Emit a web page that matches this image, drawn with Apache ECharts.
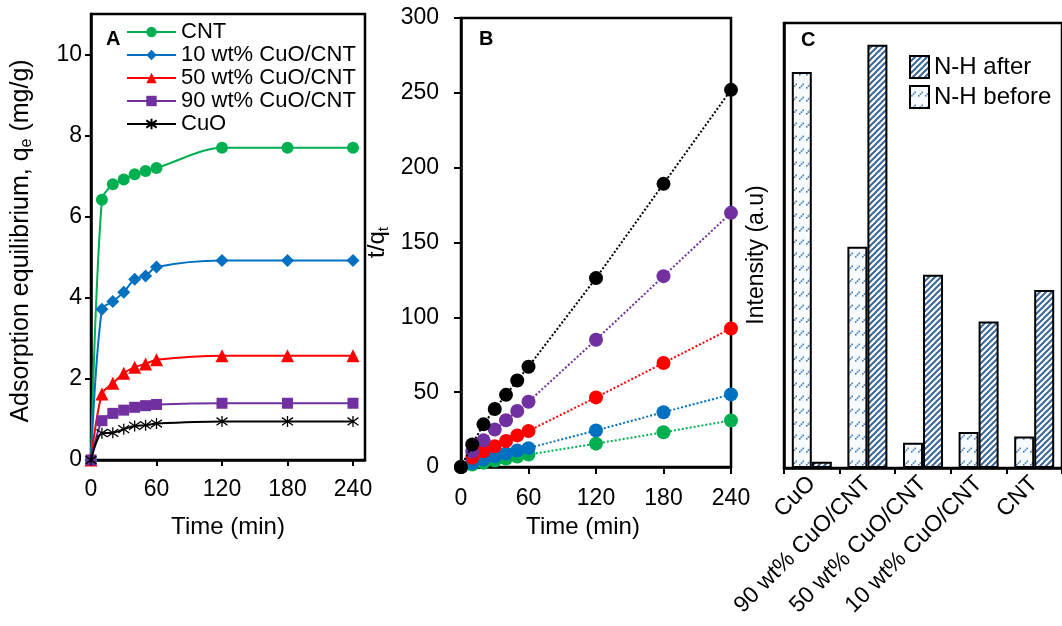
<!DOCTYPE html>
<html>
<head>
<meta charset="utf-8">
<script src="https://cdn.jsdelivr.net/npm/echarts@6/dist/echarts.min.js"></script>
<style>
  html, body { margin: 0; padding: 0; background: #fff; }
  #main { width: 1062px; height: 626px; }
</style>
</head>
<body>
<div id="main"></div>
<script>
// time points (min)
var timeA = [0, 10, 20, 30, 40, 50, 60, 120, 180, 240];

// panel A: q_e (mg/g)
var qCNT = [0, 6.42, 6.8, 6.92, 7.05, 7.13, 7.2, 7.7, 7.7, 7.7];
var q10 = [0, 3.72, 3.91, 4.14, 4.46, 4.54, 4.76, 4.92, 4.92, 4.92];
var q50 = [0, 1.63, 1.89, 2.14, 2.29, 2.37, 2.47, 2.57, 2.57, 2.57];
var q90 = [0, 0.97, 1.15, 1.23, 1.30, 1.34, 1.37, 1.40, 1.40, 1.40];
var qCuO = [0, 0.66, 0.67, 0.76, 0.84, 0.86, 0.90, 0.95, 0.95, 0.95];

// panel B: t/qt
var tqCNT = [0, 1.6, 2.9, 4.3, 5.7, 7.0, 8.3, 15.6, 23.2, 31.1];
var tq10 = [0, 2.7, 5.1, 7.2, 9.0, 11.0, 12.6, 24.4, 36.6, 48.5];
var tq50 = [0, 6.2, 10.5, 13.9, 17.4, 21.1, 24.1, 46.5, 69.5, 92.5];
var tq90 = [0, 10.4, 17.8, 25.0, 31.2, 37.4, 43.6, 85.0, 127.5, 169.8];
var tqCuO = [0, 15.0, 28.5, 38.8, 48.2, 57.8, 67.0, 126.2, 189.2, 252];

// panel C: N-H intensity (a.u)
var catsC = ['CuO', '90 wt% CuO/CNT', '50 wt% CuO/CNT', '10 wt% CuO/CNT', 'CNT'];
var nhBefore = [89.0, 49.7, 5.7, 8.1, 7.1];
var nhAfter = [1.4, 95.1, 43.4, 32.9, 40.0];

var tickA = [0, 60, 120, 180, 240];
var tickAy = [0, 2, 4, 6, 8, 10];

var names = ['CNT', '10 wt% CuO/CNT', '50 wt% CuO/CNT', '90 wt% CuO/CNT', 'CuO'];
var colors = ['#00B050', '#0070C0', '#FF0000', '#7030A0', '#000000'];
var symbols = ['circle', 'diamond', 'triangle', 'rect',
  'path://M5,0L5,10M1.5,1.5L8.5,8.5M1.5,8.5L8.5,1.5'];
var symSizes = [12, 13, 13, 11, 11];
var dataA = [qCNT, q10, q50, q90, qCuO];
var dataB = [tqCNT, tq10, tq50, tq90, tqCuO];

function pairs(ys) {
  var out = [];
  for (var i = 0; i < timeA.length; i++) out.push([timeA[i], ys[i]]);
  return out;
}

// hatch patterns
function patAfter() {
  var c = document.createElement('canvas');
  c.width = 6; c.height = 6;
  var g = c.getContext('2d');
  g.fillStyle = '#ffffff'; g.fillRect(0, 0, 6, 6);
  g.strokeStyle = '#3b6794'; g.lineWidth = 2;
  g.beginPath();
  g.moveTo(-1, 7); g.lineTo(7, -1);
  g.moveTo(-1, 1); g.lineTo(1, -1);
  g.moveTo(5, 7); g.lineTo(7, 5);
  g.stroke();
  return c;
}
function patBefore() {
  var c = document.createElement('canvas');
  c.width = 7; c.height = 13;
  var g = c.getContext('2d');
  g.fillStyle = '#f8fbfe'; g.fillRect(0, 0, 7, 13);
  g.fillStyle = '#3f78bd';
  g.fillRect(1, 9, 1.6, 1.6);
  g.fillRect(2.7, 7.3, 1.6, 1.6);
  g.fillRect(4.4, 5.6, 1.6, 1.6);
  return c;
}

var font = 'Liberation Sans, Arial, sans-serif';
var axisLineStyle = { color: '#000', width: 2.5 };

var series = [];
for (var s = 0; s < 5; s++) {
  series.push({
    name: names[s],
    type: 'line',
    xAxisIndex: 0, yAxisIndex: 0,
    data: pairs(dataA[s]),
    smooth: 0.3,
    symbol: symbols[s],
    symbolSize: symSizes[s],
    lineStyle: { color: colors[s], width: 2 },
    itemStyle: s === 4 ? { color: '#000', borderColor: '#000', borderWidth: 1.3 } : { color: colors[s] },
    emphasis: { disabled: true },
    z: 3 + s
  });
}
for (var s2 = 0; s2 < 5; s2++) {
  series.push({
    name: names[s2] + ' t/qt',
    type: 'line',
    xAxisIndex: 1, yAxisIndex: 1,
    data: pairs(dataB[s2]),
    symbol: 'circle',
    symbolSize: 14,
    lineStyle: { color: colors[s2], width: 2, type: 'dotted' },
    itemStyle: { color: colors[s2] },
    emphasis: { disabled: true },
    z: 3 + s2
  });
}
series.push({
  name: 'N-H before',
  type: 'bar',
  xAxisIndex: 2, yAxisIndex: 2,
  data: nhBefore,
  barWidth: 20,
  barGap: '0%',
  itemStyle: { color: { image: patBefore(), repeat: 'repeat' }, borderColor: '#000', borderWidth: 2 }
});
series.push({
  name: 'N-H after',
  type: 'bar',
  xAxisIndex: 2, yAxisIndex: 2,
  data: nhAfter,
  barWidth: 20,
  barGap: '0%',
  itemStyle: { color: { image: patAfter(), repeat: 'repeat' }, borderColor: '#000', borderWidth: 2 }
});

var myChart = echarts.init(document.getElementById('main'));
var option = {
  animation: false,
  textStyle: { fontFamily: font, color: '#000' },
  grid: [
    { left: 91, top: 14, width: 274, height: 446, show: true, borderColor: '#000', borderWidth: 2.5 },
    { left: 461, top: 18, width: 270, height: 449, show: true, borderColor: '#000', borderWidth: 2.5 },
    { left: 784, top: 23, width: 286, height: 445, show: true, borderColor: '#000', borderWidth: 2.5 }
  ],
  legend: [
    {
      data: names,
      orient: 'vertical',
      left: 126, top: 21, padding: 0,
      itemWidth: 49, itemHeight: 13, itemGap: 1,
      textStyle: { fontSize: 22, color: '#000', fontFamily: font },
      selectedMode: false
    },
    {
      data: ['N-H after', 'N-H before'],
      orient: 'vertical',
      left: 909, top: 55, padding: 0,
      icon: 'rect',
      itemWidth: 19, itemHeight: 22, itemGap: 6,
      textStyle: { fontSize: 24, color: '#000', fontFamily: font },
      selectedMode: false
    }
  ],
  xAxis: [
    {
      gridIndex: 0, type: 'value', min: 0, max: 251,
      axisLine: { lineStyle: axisLineStyle },
      axisTick: { show: true, length: 6, lineStyle: { color: '#000', width: 2 }, customValues: tickA },
      axisLabel: { fontSize: 23, color: '#000', margin: 18, customValues: tickA },
      splitLine: { show: false },
      name: 'Time (min)', nameLocation: 'middle', nameGap: 55,
      nameTextStyle: { fontSize: 24, color: '#000' }
    },
    {
      gridIndex: 1, type: 'value', min: 0, max: 240, interval: 60,
      axisLine: { lineStyle: axisLineStyle },
      axisTick: { show: true, length: 7, lineStyle: { color: '#000', width: 2 } },
      axisLabel: { fontSize: 23, color: '#000', margin: 20 },
      splitLine: { show: false },
      name: 'Time (min)', nameLocation: 'middle', nameGap: 42,
      nameTextStyle: { fontSize: 24, color: '#000', padding: [0, 26, 0, 0] }
    },
    {
      gridIndex: 2, type: 'category', data: catsC,
      axisLine: { lineStyle: axisLineStyle },
      axisTick: { show: true, length: 6, lineStyle: { color: '#000', width: 2 } },
      axisLabel: { fontSize: 23, color: '#000', rotate: 45, margin: 12, interval: 0 },
      splitLine: { show: false }
    }
  ],
  yAxis: [
    {
      gridIndex: 0, type: 'value', min: 0, max: 11,
      axisLine: { show: true, lineStyle: axisLineStyle },
      axisTick: { show: true, length: 6, lineStyle: { color: '#000', width: 2 }, customValues: tickAy },
      axisLabel: { fontSize: 23, color: '#000', margin: 9, customValues: tickAy },
      splitLine: { show: false },
      name: 'Adsorption equilibrium, q{sub|e} (mg/g)',
      nameLocation: 'middle', nameGap: 56,
      nameTextStyle: {
        fontSize: 25, color: '#000', padding: [0, 8, 0, 0],
        rich: { sub: { fontSize: 16, padding: [12, 0, 0, 0] } }
      }
    },
    {
      gridIndex: 1, type: 'value', min: 0, max: 300, interval: 50,
      axisLine: { show: true, lineStyle: axisLineStyle },
      axisTick: { show: true, length: 7, lineStyle: { color: '#000', width: 2 } },
      axisLabel: { fontSize: 23, color: '#000', margin: 22 },
      splitLine: { show: false },
      name: 't/q{sub|t}',
      nameLocation: 'middle', nameGap: 70,
      nameTextStyle: {
        fontSize: 24, color: '#000',
        rich: { sub: { fontSize: 15, padding: [12, 0, 0, 0] } }
      }
    },
    {
      gridIndex: 2, type: 'value', min: 0, max: 100,
      axisLine: { show: true, lineStyle: axisLineStyle },
      axisTick: { show: false },
      axisLabel: { show: false },
      splitLine: { show: false }
    }
  ],
  graphic: [
    { type: 'text', left: 106, top: 29, style: { text: 'A', fontSize: 20, fontWeight: 'bold', fill: '#000', fontFamily: font } },
    { type: 'text', left: 479, top: 29, style: { text: 'B', fontSize: 20, fontWeight: 'bold', fill: '#000', fontFamily: font } },
    { type: 'text', left: 801, top: 30, style: { text: 'C', fontSize: 20, fontWeight: 'bold', fill: '#000', fontFamily: font } },
    {
      type: 'text', x: 757, y: 255, rotation: Math.PI / 2,
      style: { text: 'Intensity (a.u)', fontSize: 23, fill: '#000', fontFamily: font, align: 'center', verticalAlign: 'middle' }
    }
  ],
  series: series
};
myChart.setOption(option);
</script>
</body>
</html>
